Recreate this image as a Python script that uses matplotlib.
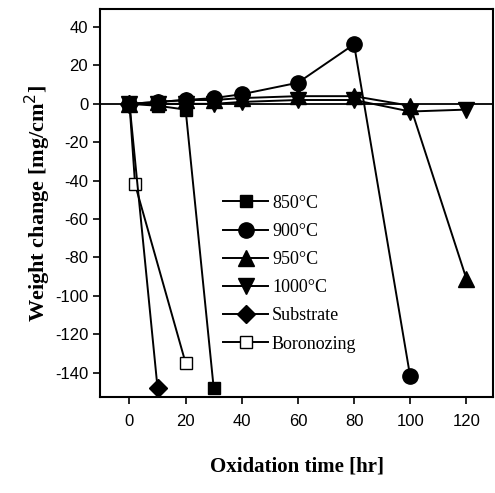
import numpy as np
import matplotlib.pyplot as plt

plt.rcParams['axes.unicode_minus'] = False

# oxidation time [hr] and weight change [mg/cm2] per series
t_850 = [0, 10, 20, 30]
w_850 = [0, -1, -3, -148]
t_900 = [0, 10, 20, 30, 40, 60, 80, 100]
w_900 = [0, 1, 2, 3, 5, 11, 31, -142]
t_950 = [0, 10, 20, 30, 40, 60, 80, 100, 120]
w_950 = [0, 1, 2, 2, 3, 4, 4, -1, -91]
t_1000 = [0, 10, 20, 30, 40, 60, 80, 100, 120]
w_1000 = [0, 0, 0, 0, 1, 2, 2, -4, -3]
t_sub = [0, 10]
w_sub = [0, -148]
t_bor = [0, 2, 20]
w_bor = [0, -42, -135]

labels = ['850°C', '900°C', '950°C', '1000°C', 'Substrate', 'Boronozing']

fig = plt.figure(figsize=(4.95, 4.93), dpi=100)
ax = fig.add_axes([100 / 495, 1 - 397 / 493, 393 / 495, 388 / 493])

ax.axhline(0, color='black', lw=1.3, zorder=1)

kw = dict(color='black', lw=1.4, mfc='black', mec='black', zorder=3)
ax.plot(t_850, w_850, marker='s', ms=9, label=labels[0], **kw)
ax.plot(t_900, w_900, marker='o', ms=11, label=labels[1], **kw)
ax.plot(t_950, w_950, marker='^', ms=11, label=labels[2], **kw)
ax.plot(t_1000, w_1000, marker='v', ms=11, label=labels[3], **kw)
ax.plot(t_sub, w_sub, marker='D', ms=9, label=labels[4], **kw)
# open squares sit under the filled markers at t=0
ax.plot(t_bor, w_bor, marker='s', ms=8, color='black', lw=1.4, mfc='white',
        mec='black', label=labels[5], zorder=2)

ax.set_xlim(-10.5, 129.5)
ax.set_ylim(-152.7, 49.4)
ax.set_xticks(np.arange(0, 121, 20))
ax.set_yticks(np.arange(-140, 41, 20))
ax.tick_params(direction='out', length=5, width=1.2, labelsize=12)
ax.tick_params(axis='x', pad=7)
for lab in ax.get_xticklabels() + ax.get_yticklabels():
    lab.set_fontfamily('Liberation Sans')
for s in ax.spines.values():
    s.set_linewidth(1.5)

ax.set_xlabel('Oxidation time [hr]', fontfamily='Liberation Serif', fontweight='bold',
              fontsize=15, labelpad=20)
ax.set_ylabel('Weight change [mg/cm$^2$]', fontfamily='Liberation Serif',
              fontweight='bold', fontsize=16, labelpad=1)

leg = ax.legend(loc='upper left', bbox_to_anchor=(0.295, 0.54), frameon=False,
                prop={'family': 'Liberation Serif', 'size': 13},
                handlelength=2.5, handletextpad=0.2, labelspacing=0.62,
                borderaxespad=0)

fig.savefig('out.png', dpi=100)
